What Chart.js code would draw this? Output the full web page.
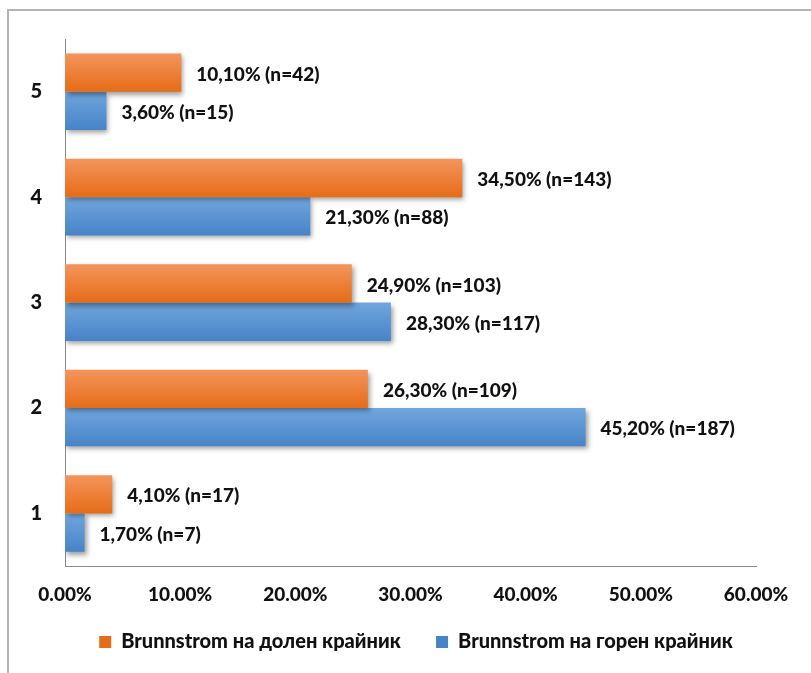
<!DOCTYPE html>
<html>
<head>
<meta charset="utf-8">
<script src="https://cdn.jsdelivr.net/npm/chart.js@4"></script>
<style>
  html, body { margin: 0; padding: 0; background: #ffffff; }
  #wrap { position: relative; width: 811px; height: 673px; overflow: hidden; }
  #frame { position: absolute; left: 7px; top: 9px; width: 900px; height: 800px;
           border-top: 2px solid #b4b4b4; border-left: 2px solid #b4b4b4; }
  canvas { position: absolute; left: 0; top: 0; }
</style>
</head>
<body>
<div id="wrap">
  <div id="frame"></div>
  <canvas id="c" width="811" height="673"></canvas>
</div>
<script>
// ---- data ----
const categories = ['1', '2', '3', '4', '5'];
const lowerLimbPct = [4.1, 26.3, 24.9, 34.5, 10.1];
const lowerLimbN = [17, 109, 103, 143, 42];
const upperLimbPct = [1.7, 45.2, 28.3, 21.3, 3.6];
const upperLimbN = [7, 187, 117, 88, 15];
const seriesNames = ['Brunnstrom на долен крайник', 'Brunnstrom на горен крайник'];
const xTickMax = 60;
const xTickStep = 10;

const FONT = 'Lato, "Open Sans", sans-serif';
const WEIGHT = '900';
const CAT_PCT = 0.727;

function fmtLabel(p, n) {
  return p.toFixed(2).replace('.', ',') + '% (n=' + n + ')';
}
const lowerLabels = lowerLimbPct.map((p, i) => fmtLabel(p, lowerLimbN[i]));
const upperLabels = upperLimbPct.map((p, i) => fmtLabel(p, upperLimbN[i]));

function barGradient(ctx, top, bottom) {
  const chart = ctx.chart;
  const ys = chart.scales && chart.scales.y;
  if (!ys || !chart.chartArea || ctx.type !== 'data') return bottom;
  const center = ys.getPixelForValue(ctx.dataIndex);
  const cat = Math.abs(ys.getPixelForValue(1) - ys.getPixelForValue(0));
  const th = cat * CAT_PCT / 2;
  const y0 = center - cat * CAT_PCT / 2 + ctx.datasetIndex * th;
  const g = chart.ctx.createLinearGradient(0, y0, 0, y0 + th);
  g.addColorStop(0, top);
  g.addColorStop(1, bottom);
  return g;
}

const shadowPlugin = {
  id: 'shadow',
  beforeDatasetsDraw(chart) {
    const c = chart.ctx;
    c.save();
    c.shadowColor = 'rgba(0,0,0,0.38)';
    c.shadowBlur = 5;
    c.shadowOffsetX = 2;
    c.shadowOffsetY = 3;
  },
  afterDatasetsDraw(chart) {
    chart.ctx.restore();
    const c = chart.ctx;
    c.save();
    c.font = WEIGHT + ' 19px ' + FONT;
    c.fillStyle = '#111111';
    c.textAlign = 'left';
    c.textBaseline = 'middle';
    const labelSets = [lowerLabels, upperLabels];
    chart.data.datasets.forEach((ds, di) => {
      const meta = chart.getDatasetMeta(di);
      meta.data.forEach((el, i) => {
        c.fillText(labelSets[di][i], el.x + 15, el.y + 2);
      });
    });
    c.restore();
  }
};

new Chart(document.getElementById('c'), {
  type: 'bar',
  data: {
    labels: categories,
    datasets: [
      {
        label: seriesNames[0],
        data: lowerLimbPct,
        backgroundColor: (ctx) => ctx.type === 'data' ? barGradient(ctx, '#f4955c', '#e66c17') : '#ef7a2c',
        borderWidth: 0,
        categoryPercentage: CAT_PCT,
        barPercentage: 1.0
      },
      {
        label: seriesNames[1],
        data: upperLimbPct,
        backgroundColor: (ctx) => ctx.type === 'data' ? barGradient(ctx, '#71a6dd', '#4683c8') : '#5693d4',
        borderWidth: 0,
        categoryPercentage: CAT_PCT,
        barPercentage: 1.0
      }
    ]
  },
  options: {
    indexAxis: 'y',
    responsive: false,
    animation: false,
    devicePixelRatio: 1,
    layout: { padding: { left: 21, right: 0, top: 39, bottom: 11 } },
    scales: {
      x: {
        min: 0, max: xTickMax,
        ticks: {
          stepSize: xTickStep,
          callback: (v) => Number(v).toFixed(2) + '%',
          font: { family: FONT, size: 19, weight: WEIGHT },
          color: '#111111',
          padding: 17
        },
        grid: { display: false, drawTicks: false },
        border: { display: true, color: '#8a8a8a', width: 1 }
      },
      y: {
        reverse: true,
        afterFit(scale) { scale.width = 44; },
        ticks: {
          font: { family: FONT, size: 20, weight: WEIGHT },
          color: '#111111',
          padding: 23
        },
        grid: { display: false, drawTicks: false },
        border: { display: true, color: '#8a8a8a', width: 1 }
      },
      yRight: {
        type: 'category',
        position: 'right',
        afterFit(scale) { scale.width = 55; },
        ticks: { display: false },
        grid: { display: false, drawTicks: false },
        border: { display: false }
      }
    },
    plugins: {
      legend: {
        position: 'bottom',
        labels: {
          boxWidth: 12, boxHeight: 12,
          padding: 9,
          color: '#111111',
          font: { family: FONT, size: 20, weight: WEIGHT },
          generateLabels(chart) {
            const items = Chart.defaults.plugins.legend.labels.generateLabels(chart);
            items.forEach((it, i) => { if (i === 0) it.text = it.text + '\u2003\u2002\u200A'; });
            return items;
          }
        }
      },
      tooltip: { enabled: false }
    }
  },
  plugins: [shadowPlugin]
});
</script>
</body>
</html>
